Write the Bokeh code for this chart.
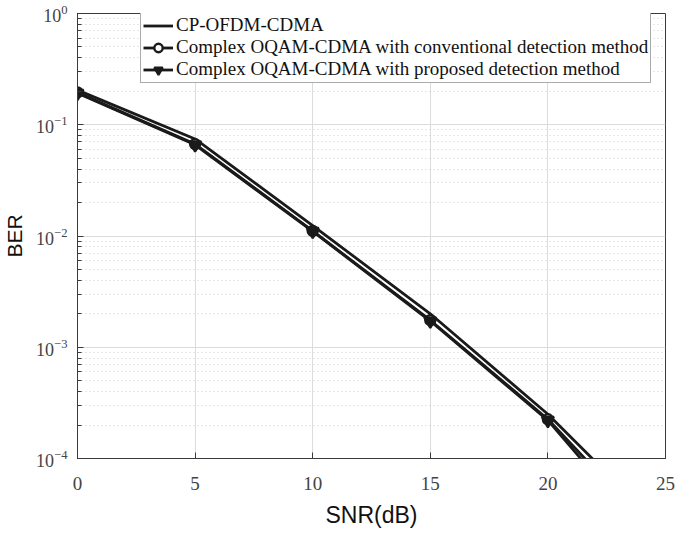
from bokeh.plotting import figure
from bokeh.models import Legend, LegendItem, FixedTicker, LogTicker
from bokeh.embed import file_html
from bokeh.resources import INLINE

# ---- data ----
snr_db = [0, 5, 10, 15, 20, 25]
ber_cp_ofdm = [0.205, 0.0745, 0.0124, 0.0020, 2.5e-4, 2.2e-5]
ber_oqam_conventional = [0.195, 0.067, 0.0111, 0.00175, 2.25e-4, 1.7e-5]
ber_oqam_proposed = [0.192, 0.066, 0.0110, 0.00172, 2.2e-4, 1.3e-5]
x_ticks = [0, 5, 10, 15, 20, 25]
legend_labels = [
    "CP-OFDM-CDMA",
    "Complex OQAM-CDMA with conventional detection method",
    "Complex OQAM-CDMA with proposed detection method",
]

SERIF = "Liberation Serif"
SANS = "Liberation Sans"
AX = "#3a3a3a"

FRAME_H = 445
p = figure(
    width=675, height=543,
    x_range=(0, 25), y_range=(1e-4, 1),
    y_axis_type="log",
    output_backend="svg", toolbar_location=None,
    min_border_left=77, min_border_right=10, min_border_top=13, min_border_bottom=85,
)
p.outline_line_color = AX
p.outline_line_width = 1
p.background_fill_color = "white"
p.border_fill_color = "white"

# x axis
xa = p.xaxis[0]
xa.ticker = FixedTicker(ticks=x_ticks)
xa.axis_label = "SNR(dB)"
xa.axis_label_text_font = SANS
xa.axis_label_text_font_style = "normal"
xa.axis_label_text_font_size = "23px"
xa.axis_label_text_color = "#111111"
xa.axis_label_standoff = 9
xa.major_label_text_font = SERIF
xa.major_label_text_font_size = "19px"
xa.major_label_text_color = "#444444"
xa.major_label_standoff = 18
xa.major_tick_in = 6
xa.major_tick_out = 0
xa.minor_tick_in = 0
xa.minor_tick_out = 0
xa.axis_line_color = AX
xa.major_tick_line_color = AX

# y axis
ya = p.yaxis[0]
ya.ticker = LogTicker(num_minor_ticks=10)
ya.axis_label = "BER"
ya.axis_label_text_font = SANS
ya.axis_label_text_font_style = "normal"
ya.axis_label_text_font_size = "21px"
ya.axis_label_text_color = "#111111"
ya.axis_label_standoff = 7
ya.major_label_text_font = SERIF
ya.major_label_text_font_size = "18px"
ya.major_label_text_color = "#444444"
ya.major_label_standoff = 10
ya.major_tick_in = 6
ya.major_tick_out = 0
ya.minor_tick_in = 4
ya.minor_tick_out = 0
ya.axis_line_color = AX
ya.major_tick_line_color = AX
ya.minor_tick_line_color = AX

# grids
p.xgrid.ticker = FixedTicker(ticks=x_ticks)
p.xgrid.grid_line_color = "#dcdcdc"
p.xgrid.grid_line_width = 1
p.ygrid.grid_line_color = "#dcdcdc"
p.ygrid.grid_line_width = 1
p.ygrid.minor_grid_line_color = "#cfcfcf"
p.ygrid.minor_grid_line_dash = "1 3"
p.ygrid.minor_grid_line_width = 1

LC = "#1a1a1a"
LW = 2.8

r1 = p.line(snr_db, ber_cp_ofdm, line_color=LC, line_width=LW)

r2 = p.line(snr_db, ber_oqam_conventional, line_color=LC, line_width=LW)
m2 = p.scatter(snr_db, ber_oqam_conventional, marker="circle", size=10,
               line_color=LC, line_width=2.4, fill_color="white")

r3 = p.line(snr_db, ber_oqam_proposed, line_color=LC, line_width=LW)
m3 = p.scatter(snr_db, ber_oqam_proposed, marker="inverted_triangle", size=12,
               line_color=LC, line_width=2.2, fill_color=LC)

LEG_H = 70
legend = Legend(
    items=[
        LegendItem(label=legend_labels[0], renderers=[r1]),
        LegendItem(label=legend_labels[1], renderers=[r2, m2]),
        LegendItem(label=legend_labels[2], renderers=[r3, m3]),
    ],
    location=(63, FRAME_H - LEG_H),
    orientation="vertical",
    label_text_font=SERIF,
    label_text_font_size="19px",
    label_text_color="#111111",
    label_standoff=3,
    label_height=21,
    glyph_height=21,
    glyph_width=30,
    spacing=0,
    padding=2,
    margin=0,
    border_line_color="#555555",
    border_line_width=1,
    background_fill_color="white",
    background_fill_alpha=1.0,
)
p.add_layout(legend, "center")

open("out.html", "w").write(file_html(p, INLINE))
